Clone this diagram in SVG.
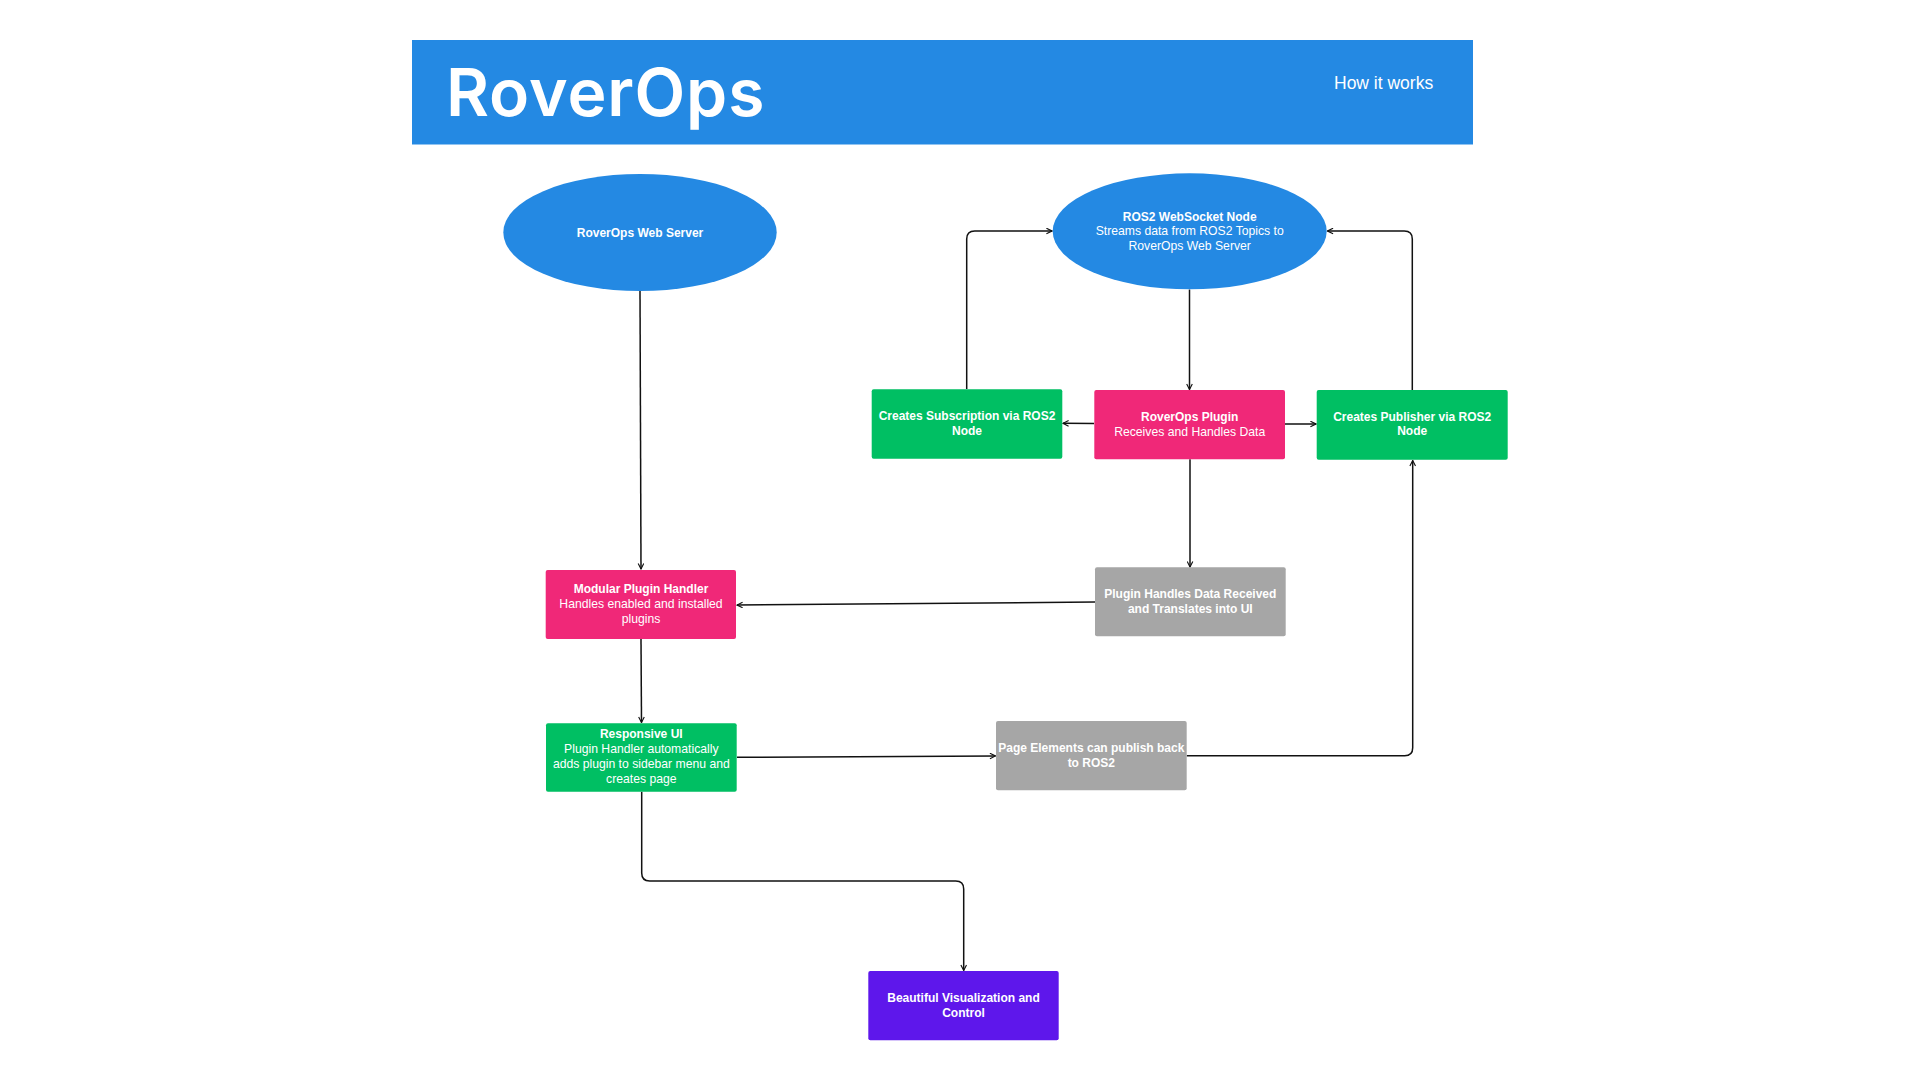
<svg xmlns="http://www.w3.org/2000/svg" width="1920" height="1080" viewBox="0 0 1920 1080">
<defs>
<style>
.bg{fill:#ffffff}
.banner{fill:#2489E3}
.ell{fill:#2489E3}
.green{fill:#00BF63}
.pink{fill:#F02878}
.gray{fill:#A6A6A6}
.purple{fill:#5E17EB}
text{font-family:"Liberation Sans",Arial,sans-serif;fill:#ffffff;text-anchor:middle}
.b{font-weight:bold;font-size:12px}
.r{font-size:12.2px}
.title{font-family:Inter,"Liberation Sans",sans-serif;font-weight:600;font-size:66px;letter-spacing:0.9px;text-anchor:start}
.sub{font-size:17.5px;text-anchor:start}
.conn path{fill:none;stroke:#111111;stroke-width:1.5;marker-end:url(#arr)}
</style>
<marker id="arr" viewBox="0 0 10 10" refX="9" refY="5" markerWidth="7" markerHeight="7" markerUnits="userSpaceOnUse" orient="auto">
<path d="M1,1 L9,5 L1,9" fill="none" stroke="#111111" stroke-width="1.6"/>
</marker>
</defs>
<rect class="bg" x="0" y="0" width="1920" height="1080"/>

<g id="header">
<rect class="banner" x="412" y="40" width="1061" height="104.5"/>
<text class="title" x="446" y="116">RoverOps</text>
<text class="sub" x="1334" y="89.3">How it works</text>
</g>

<g id="connectors" class="conn">
<path d="M640,291 L641,569"/>
<path d="M1189.5,289.5 L1189.5,389.5"/>
<path d="M1094,423.5 L1063,423.3"/>
<path d="M1285,424 L1316,424"/>
<path d="M966.7,389 L966.7,239 Q966.7,231 974.7,231 L1052,231"/>
<path d="M1412.3,390 L1412.3,239 Q1412.3,231 1404.3,231 L1327.5,231"/>
<path d="M1190,459.3 L1190,567"/>
<path d="M1095,602 L737,605"/>
<path d="M641,639 L641.5,722.5"/>
<path d="M737,757.3 L995.5,756"/>
<path d="M1186.7,755.7 L1404.7,755.7 Q1412.7,755.7 1412.7,747.7 L1412.7,460.5"/>
<path d="M641.7,791.7 L641.7,873 Q641.7,881 649.7,881 L955.7,881 Q963.7,881 963.7,889 L963.7,970.5"/>
</g>

<g id="node-webserver">
<ellipse class="ell" cx="640" cy="232.5" rx="136.7" ry="58.5"/>
<text class="b" x="640" y="236.5">RoverOps Web Server</text>
</g>

<g id="node-ros2ws">
<ellipse class="ell" cx="1189.7" cy="231.3" rx="137" ry="58"/>
<text class="b" x="1189.7" y="220.5">ROS2 WebSocket Node</text>
<text class="r" x="1189.7" y="235">Streams data from ROS2 Topics to</text>
<text class="r" x="1189.7" y="249.5">RoverOps Web Server</text>
</g>

<g id="node-subscription">
<rect class="green" x="871.7" y="389.3" width="190.6" height="69.4" rx="2"/>
<text class="b" x="967" y="420">Creates Subscription via ROS2</text>
<text class="b" x="967" y="435">Node</text>
</g>

<g id="node-plugin">
<rect class="pink" x="1094.3" y="390" width="190.7" height="69.3" rx="2"/>
<text class="b" x="1189.7" y="420.7">RoverOps Plugin</text>
<text class="r" x="1189.7" y="435.7">Receives and Handles Data</text>
</g>

<g id="node-publisher">
<rect class="green" x="1316.7" y="390" width="191" height="69.7" rx="2"/>
<text class="b" x="1412.2" y="420.7">Creates Publisher via ROS2</text>
<text class="b" x="1412.2" y="435.3">Node</text>
</g>

<g id="node-modular">
<rect class="pink" x="545.7" y="570" width="190.3" height="69" rx="2"/>
<text class="b" x="641" y="592.7">Modular Plugin Handler</text>
<text class="r" x="641" y="607.7">Handles enabled and installed</text>
<text class="r" x="641" y="622.7">plugins</text>
</g>

<g id="node-handles-data">
<rect class="gray" x="1095" y="567.3" width="190.7" height="69" rx="2"/>
<text class="b" x="1190.3" y="598.3">Plugin Handles Data Received</text>
<text class="b" x="1190.3" y="613.3">and Translates into UI</text>
</g>

<g id="node-responsive">
<rect class="green" x="546" y="723.3" width="190.7" height="68.4" rx="2"/>
<text class="b" x="641.3" y="738.3">Responsive UI</text>
<text class="r" x="641.3" y="753.3">Plugin Handler automatically</text>
<text class="r" x="641.3" y="768.3">adds plugin to sidebar menu and</text>
<text class="r" x="641.3" y="783.3">creates page</text>
</g>

<g id="node-page-elements">
<rect class="gray" x="996" y="721" width="190.7" height="69.3" rx="2"/>
<text class="b" x="1091.3" y="751.7">Page Elements can publish back</text>
<text class="b" x="1091.3" y="766.7">to ROS2</text>
</g>

<g id="node-visualization">
<rect class="purple" x="868.3" y="971" width="190.4" height="69.3" rx="2"/>
<text class="b" x="963.5" y="1001.7">Beautiful Visualization and</text>
<text class="b" x="963.5" y="1016.7">Control</text>
</g>
</svg>
